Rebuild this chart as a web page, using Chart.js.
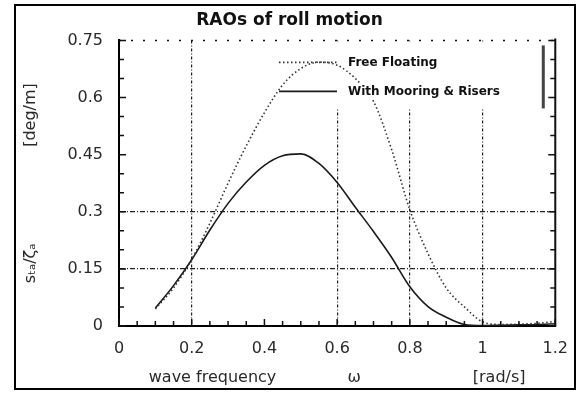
<!DOCTYPE html>
<html>
<head>
<meta charset="utf-8">
<script src="https://cdn.jsdelivr.net/npm/chart.js@4/dist/chart.umd.min.js"></script>
<style>
  html, body { margin: 0; padding: 0; background: #fff; }
  #wrap { position: relative; width: 581px; height: 394px; }
  #frame {
    position: absolute; left: 14px; top: 4px; width: 558px; height: 382px;
    border: 2px solid #000; pointer-events: none;
  }
  canvas { position: absolute; left: 0; top: 0; }
</style>
</head>
<body>
<div id="wrap">
  <canvas id="raoChart" width="581" height="394"></canvas>
  <div id="frame"></div>
</div>
<script>
// wave frequency [rad/s]
const freq = [0.1, 0.15, 0.2, 0.25, 0.3, 0.35, 0.4, 0.45, 0.5, 0.55, 0.6, 0.65,
              0.7, 0.75, 0.8, 0.85, 0.9, 0.95, 1.0, 1.05, 1.1, 1.15, 1.2];
// roll RAO [deg/m]
const freeFloating = [0.045, 0.10, 0.175, 0.27, 0.375, 0.473, 0.56, 0.633, 0.676, 0.693, 0.685, 0.65,
                      0.59, 0.463, 0.305, 0.19, 0.10, 0.05, 0.011, 0.004, 0.005, 0.007, 0.012];
const withMooring = [0.047, 0.106, 0.174, 0.252, 0.322, 0.378, 0.422, 0.447, 0.452, 0.427, 0.377, 0.312,
                     0.248, 0.18, 0.103, 0.051, 0.023, 0.004, 0.001, 0.002, 0.003, 0.004, 0.006];
const seriesNames = ['Free Floating', 'With Mooring & Risers'];
const xGridAt = [0.2, 0.6, 0.8, 1.0];
const yGridAt = [0.15, 0.3];

const near = (v, list) => list.some(g => Math.abs(g - v) < 1e-6);
const toPoints = ys => freq.map((f, i) => ({ x: f, y: ys[i] }));

// minor ticks, top dotted border, right border and the key
const decor = {
  id: 'decor',
  beforeDatasetsDraw(chart) {
    const { ctx, chartArea: a } = chart;
    // blank the grid behind the key
    ctx.save();
    ctx.fillStyle = '#fff';
    ctx.fillRect(a.left + 81, a.top + 1, a.right - a.left - 99, 67);
    ctx.restore();
  },
  afterDatasetsDraw(chart) {
    const { ctx, chartArea: a } = chart;
    const xs = chart.scales.x, ys = chart.scales.y;
    ctx.save();
    ctx.strokeStyle = '#111';
    ctx.lineWidth = 1.5;

    // top border, dotted
    ctx.setLineDash([2, 10]);
    ctx.beginPath();
    ctx.moveTo(a.left, a.top);
    ctx.lineTo(a.right, a.top);
    ctx.stroke();
    ctx.setLineDash([]);

    // right border
    ctx.lineWidth = 2;
    ctx.beginPath();
    ctx.moveTo(a.right, a.top - 2);
    ctx.lineTo(a.right, a.bottom);
    ctx.stroke();

    // inward ticks
    ctx.lineWidth = 1.5;
    ctx.beginPath();
    for (let k = 0; k <= 24; k++) {
      const px = xs.getPixelForValue(k * 0.05);
      const len = k % 4 === 0 ? 7 : 5;
      ctx.moveTo(px, a.bottom);
      ctx.lineTo(px, a.bottom - len);
    }
    for (let k = 0; k <= 15; k++) {
      const py = ys.getPixelForValue(k * 0.05);
      const len = k % 3 === 0 ? 7 : 5;
      ctx.moveTo(a.left, py);
      ctx.lineTo(a.left + len, py);
      ctx.moveTo(a.right, py);
      ctx.lineTo(a.right - len, py);
    }
    ctx.stroke();

    // odd bar near the right edge
    ctx.strokeStyle = '#444';
    ctx.lineWidth = 3;
    ctx.beginPath();
    ctx.moveTo(a.right - 12, a.top + 5);
    ctx.lineTo(a.right - 12, a.top + 68);
    ctx.stroke();

    // key
    const rows = [a.top + 22, a.top + 51];
    const x0 = a.left + 160, x1 = a.left + 218, tx = a.left + 229;
    ctx.font = 'bold 12px "DejaVu Sans"';
    ctx.textBaseline = 'middle';
    chart.data.datasets.forEach((ds, i) => {
      const w = ctx.measureText(ds.label).width;
      ctx.fillStyle = '#fff';
      ctx.fillRect(tx - 3, rows[i] - 8, w + 6, 16);
      ctx.fillStyle = '#111';
      ctx.fillText(ds.label, tx, rows[i]);
      ctx.strokeStyle = ds.borderColor;
      ctx.lineWidth = ds.borderWidth;
      ctx.setLineDash(ds.borderDash || []);
      ctx.beginPath();
      ctx.moveTo(x0, rows[i]);
      ctx.lineTo(x1, rows[i]);
      ctx.stroke();
    });
    ctx.restore();
  }
};

const ctx = document.getElementById('raoChart').getContext('2d');
const raoChart = new Chart(ctx, {
  type: 'line',
  data: {
    datasets: [{
      label: seriesNames[0],
      data: toPoints(freeFloating),
      borderColor: '#333',
      borderWidth: 1.6,
      borderDash: [1.5, 2.5],
      pointRadius: 0,
      cubicInterpolationMode: 'monotone',
      fill: false
    }, {
      label: seriesNames[1],
      data: toPoints(withMooring),
      borderColor: '#1a1a1a',
      borderWidth: 1.6,
      pointRadius: 0,
      cubicInterpolationMode: 'monotone',
      fill: false
    }]
  },
  options: {
    responsive: false,
    animation: false,
    layout: { padding: { left: 16, right: 18, top: 6, bottom: 6 } },
    scales: {
      x: {
        type: 'linear',
        min: 0,
        max: 1.2,
        afterFit: s => { s.height = 62; },
        ticks: {
          stepSize: 0.2,
          padding: 13,
          color: '#2a2a2a',
          font: { family: 'DejaVu Sans', size: 16 },
          callback: v => String(+v.toFixed(2))
        },
        grid: {
          drawTicks: false,
          lineWidth: 1.2,
          color: c => near(c.tick.value, xGridAt) ? '#222' : 'rgba(0,0,0,0)'
        },
        border: { display: true, color: '#000', width: 2, dash: [3, 2, 1, 2] },
        title: {
          display: true,
          text: 'wave frequency              ω                      [rad/s]',
          color: '#2a2a2a',
          font: { family: 'DejaVu Sans', size: 16 },
          padding: { top: 0, bottom: 1 }
        }
      },
      y: {
        min: 0,
        max: 0.75,
        afterFit: s => { s.width = 103; },
        ticks: {
          stepSize: 0.15,
          padding: 16,
          color: '#2a2a2a',
          font: { family: 'DejaVu Sans', size: 16 },
          callback: v => String(+v.toFixed(2))
        },
        grid: {
          drawTicks: false,
          lineWidth: 1.2,
          color: c => near(c.tick.value, yGridAt) ? '#222' : 'rgba(0,0,0,0)'
        },
        border: { display: true, color: '#000', width: 2, dash: [5, 2, 1, 2] },
        title: {
          display: true,
          text: 'sₜₐ/ζₐ                   [deg/m]',
          color: '#2a2a2a',
          font: { family: 'DejaVu Sans', size: 16 },
          padding: { top: 5, bottom: 0 }
        }
      }
    },
    plugins: {
      legend: { display: false },
      tooltip: { enabled: false },
      title: {
        display: true,
        text: 'RAOs of roll motion',
        color: '#111',
        font: { family: 'DejaVu Sans', size: 17, weight: 'bold' },
        padding: { top: 4, bottom: 10 }
      }
    }
  },
  plugins: [decor]
});
</script>
</body>
</html>
